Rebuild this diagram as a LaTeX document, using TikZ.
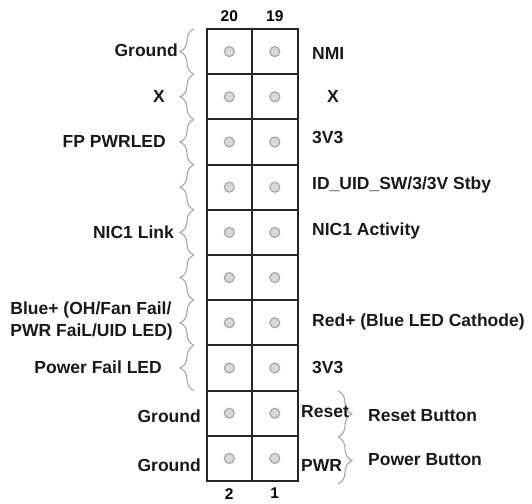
\documentclass[tikz,border=0pt]{standalone}
\usepackage{fontspec}
\setmainfont{Liberation Sans}
\usetikzlibrary{decorations.pathreplacing, positioning, calc}

\tikzset{
  cell/.style={draw=black!85, line width=2pt, minimum width=45.5pt, minimum height=45.2pt, inner sep=0pt},
  pin/.style={circle, draw=gray!70, fill=gray!30, line width=1.2pt, minimum size=10pt, inner sep=0pt},
  lbl/.style={font=\fontsize{17.5}{22}\selectfont\bfseries, inner sep=0pt, text=black!90},
  num/.style={font=\fontsize{15.5}{17}\selectfont\bfseries, inner sep=0pt},
  wire/.style={decorate, decoration={brace, amplitude=14pt}, draw=gray!70, line width=1.1pt},
}

\begin{document}
\begin{tikzpicture}[x=1pt, y=-1pt]
    \useasboundingbox (0,0) rectangle (532,503);

    % header cells and pins (row 1 at top)
    \foreach \r in {1,...,10} {
        \pgfmathsetmacro{\yy}{29+45.2*(\r-0.5)}
        \pgfmathtruncatemacro{\pl}{22-2*\r}
        \pgfmathtruncatemacro{\pr}{21-2*\r}
        \node[cell] (c\pl) at (229.3,\yy) {};
        \node[cell] (c\pr) at (274.8,\yy) {};
        \node[pin] (p\pl) at (c\pl) {};
        \node[pin] (p\pr) at (c\pr) {};
    }

    % pin numbers
    \node[num, above=6pt of c20] (n20) {20};
    \node[num, above=6pt of c19] (n19) {19};
    \node[num, below=6pt of c2] (n2) {2};
    \node[num, below=6pt of c1] (n1) {1};

    % brace end points
    \foreach \k in {0,...,8} {
        \coordinate (bl\k) at (194,29+45.2*\k);
    }
    \coordinate (br0) at (338,391);
    \coordinate (br1) at (338,437);
    \coordinate (br2) at (338,484);

    % left braces
    \foreach \a/\b in {1/0,2/1,3/2,4/3,5/4,6/5,7/6,8/7} {
        \draw[wire] (bl\a) -- (bl\b);
    }
    % right braces
    \draw[wire] (br0) -- (br1);
    \draw[wire] (br1) -- (br2);

    % left labels
    \node[lbl, anchor=east] (gnd20) at (178,50) {Ground};
    \node[lbl, anchor=east] (x18) at (165,96) {X};
    \node[lbl, anchor=east] (pwrled) at (166,141) {FP PWRLED};
    \node[lbl, anchor=east] (niclink) at (174,232) {NIC1 Link};
    \node[lbl, anchor=east, align=left] (blue) at (173,321) {Blue+ (OH/Fan Fail/\\PWR FaiL/UID LED)};
    \node[lbl, anchor=east] (pfled) at (162,367) {Power Fail LED};
    \node[lbl, anchor=east] (gnd4) at (201,416) {Ground};
    \node[lbl, anchor=east] (gnd2) at (201,465) {Ground};

    % right labels
    \node[lbl, anchor=west] (nmi) at (312,53) {NMI};
    \node[lbl, anchor=west] (x17) at (327,96) {X};
    \node[lbl, anchor=west] (v15) at (312,137) {3V3};
    \node[lbl, anchor=west] (uid) at (312,185) {ID\_UID\_SW/3/3V Stby};
    \node[lbl, anchor=west] (nicact) at (312,231) {NIC1 Activity};
    \node[lbl, anchor=west] (red) at (312,322) {Red+ (Blue LED Cathode)};
    \node[lbl, anchor=west] (v5) at (312,367) {3V3};
    \node[lbl, anchor=west] (rst) at (301,412) {Reset};
    \node[lbl, anchor=west] (pwr) at (301,465) {PWR};
    \node[lbl, anchor=west] (rstbtn) at (368,416) {Reset Button};
    \node[lbl, anchor=west] (pwrbtn) at (368,460) {Power Button};
\end{tikzpicture}
\end{document}
